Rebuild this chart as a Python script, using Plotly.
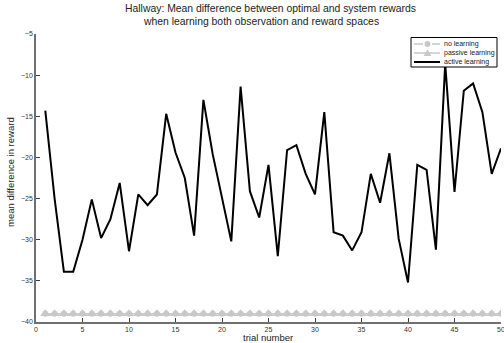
import plotly.graph_objects as go

trials = list(range(1, 51))
active_learning = [-14.3, -25.0, -33.9, -33.9, -30.0, -25.1, -29.8, -27.5, -23.1, -31.4,
                   -24.5, -25.8, -24.5, -14.7, -19.4, -22.5, -29.5, -13.0, -19.6, -24.8,
                   -30.2, -11.4, -24.1, -27.3, -20.9, -32.0, -19.1, -18.5, -22.0, -24.5,
                   -14.5, -29.1, -29.5, -31.3, -29.1, -22.0, -25.5, -19.5, -29.9, -35.2,
                   -20.9, -21.5, -31.2, -8.6, -24.2, -11.9, -11.0, -14.5, -22.0, -18.9]
no_learning = [-39.0] * 50
passive_learning = [-39.0] * 50

series_names = ["no learning", "passive learning", "active learning"]
title_lines = ["Hallway: Mean difference between optimal and system rewards",
               "when learning both observation and reward spaces"]
x_title = "trial number"
y_title = "mean difference in reward"
x_ticks = [0, 5, 10, 15, 20, 25, 30, 35, 40, 45, 50]
y_ticks = [-40, -35, -30, -25, -20, -15, -10, -5]

W, H = 504, 343
L, R, T, B = 36, 3, 34, 21
PW, PH = W - L - R, H - T - B


def px(x):
    return (x - L) / PW


def py(y):
    return (H - B - y) / PH


gray = "#c8c8c8"
fig = go.Figure()
fig.add_trace(go.Scatter(x=trials, y=no_learning, name=series_names[0], mode="lines+markers",
                         line=dict(color=gray, width=1.5, dash="dash"),
                         marker=dict(symbol="circle", size=6, color=gray), showlegend=False))
fig.add_trace(go.Scatter(x=trials, y=passive_learning, name=series_names[1], mode="lines+markers",
                         line=dict(color=gray, width=1.5),
                         marker=dict(symbol="triangle-up", size=9, color=gray), showlegend=False))
fig.add_trace(go.Scatter(x=trials, y=active_learning, name=series_names[2], mode="lines",
                         line=dict(color="black", width=2), showlegend=False))

axis_common = dict(showgrid=False, zeroline=False, showline=True, linecolor="#707070", linewidth=1.5,
                   ticks="inside", ticklen=4, tickcolor="#404040", tickwidth=1,
                   tickfont=dict(size=7, color="#333333"), mirror=False, automargin=False,
                   ticklabeloverflow="allow")

font_family = "Liberation Sans, Arial, sans-serif"
annotations = [
    dict(text=title_lines[0], x=px(270), y=py(8), xref="paper", yref="paper",
         showarrow=False, font=dict(size=10.4, color="#222222"), xanchor="center", yanchor="middle"),
    dict(text=title_lines[1], x=px(261), y=py(21), xref="paper", yref="paper",
         showarrow=False, font=dict(size=10.4, color="#222222"), xanchor="center", yanchor="middle"),
    dict(text=x_title, x=px(267.5), y=py(337.5), xref="paper", yref="paper",
         showarrow=False, font=dict(size=9.5, color="#222222"), xanchor="center", yanchor="middle"),
    dict(text=y_title, x=px(10), y=py(172), xref="paper", yref="paper", textangle=-90,
         showarrow=False, font=dict(size=9.5, color="#222222"), xanchor="center", yanchor="middle"),
]

# legend (drawn in paper space)
shapes = [dict(type="rect", xref="paper", yref="paper", x0=px(411), x1=px(497), y0=py(67), y1=py(37.5),
               fillcolor="white", line=dict(color="black", width=1), layer="above")]
rows = [44, 53, 62]
line_styles = [dict(color=gray, width=1.5, dash="dash"), dict(color=gray, width=1.5),
               dict(color="black", width=2)]
for i, yy in enumerate(rows):
    shapes.append(dict(type="line", xref="paper", yref="paper", x0=px(414), x1=px(440),
                       y0=py(yy), y1=py(yy), line=line_styles[i], layer="above"))
    annotations.append(dict(text=series_names[i], x=px(442), y=py(yy), xref="paper", yref="paper",
                            showarrow=False, font=dict(size=7, color="#222222"),
                            xanchor="left", yanchor="middle"))
shapes.append(dict(type="circle", xref="paper", yref="paper", x0=px(424.5), x1=px(430.5),
                   y0=py(47), y1=py(41), fillcolor=gray, line=dict(color=gray, width=0), layer="above"))
shapes.append(dict(type="path", xref="paper", yref="paper",
                   path=f"M {px(423.5)} {py(56)} L {px(431.5)} {py(56)} L {px(427.5)} {py(49.5)} Z",
                   fillcolor=gray, line=dict(color=gray, width=0), layer="above"))

fig.update_layout(
    width=W, height=H,
    margin=dict(l=L, r=R, t=T, b=B, autoexpand=False),
    paper_bgcolor="white", plot_bgcolor="white",
    font=dict(family=font_family, color="#222222"),
    xaxis=dict(range=[0, 50], tickvals=x_ticks, **axis_common),
    yaxis=dict(range=[-40, -5], tickvals=y_ticks, **axis_common),
    annotations=annotations,
    shapes=shapes,
    showlegend=False,
)

fig.write_html("out.html", config={"displayModeBar": False},
               post_script="document.body.style.margin='0';document.body.style.overflow='hidden';")
